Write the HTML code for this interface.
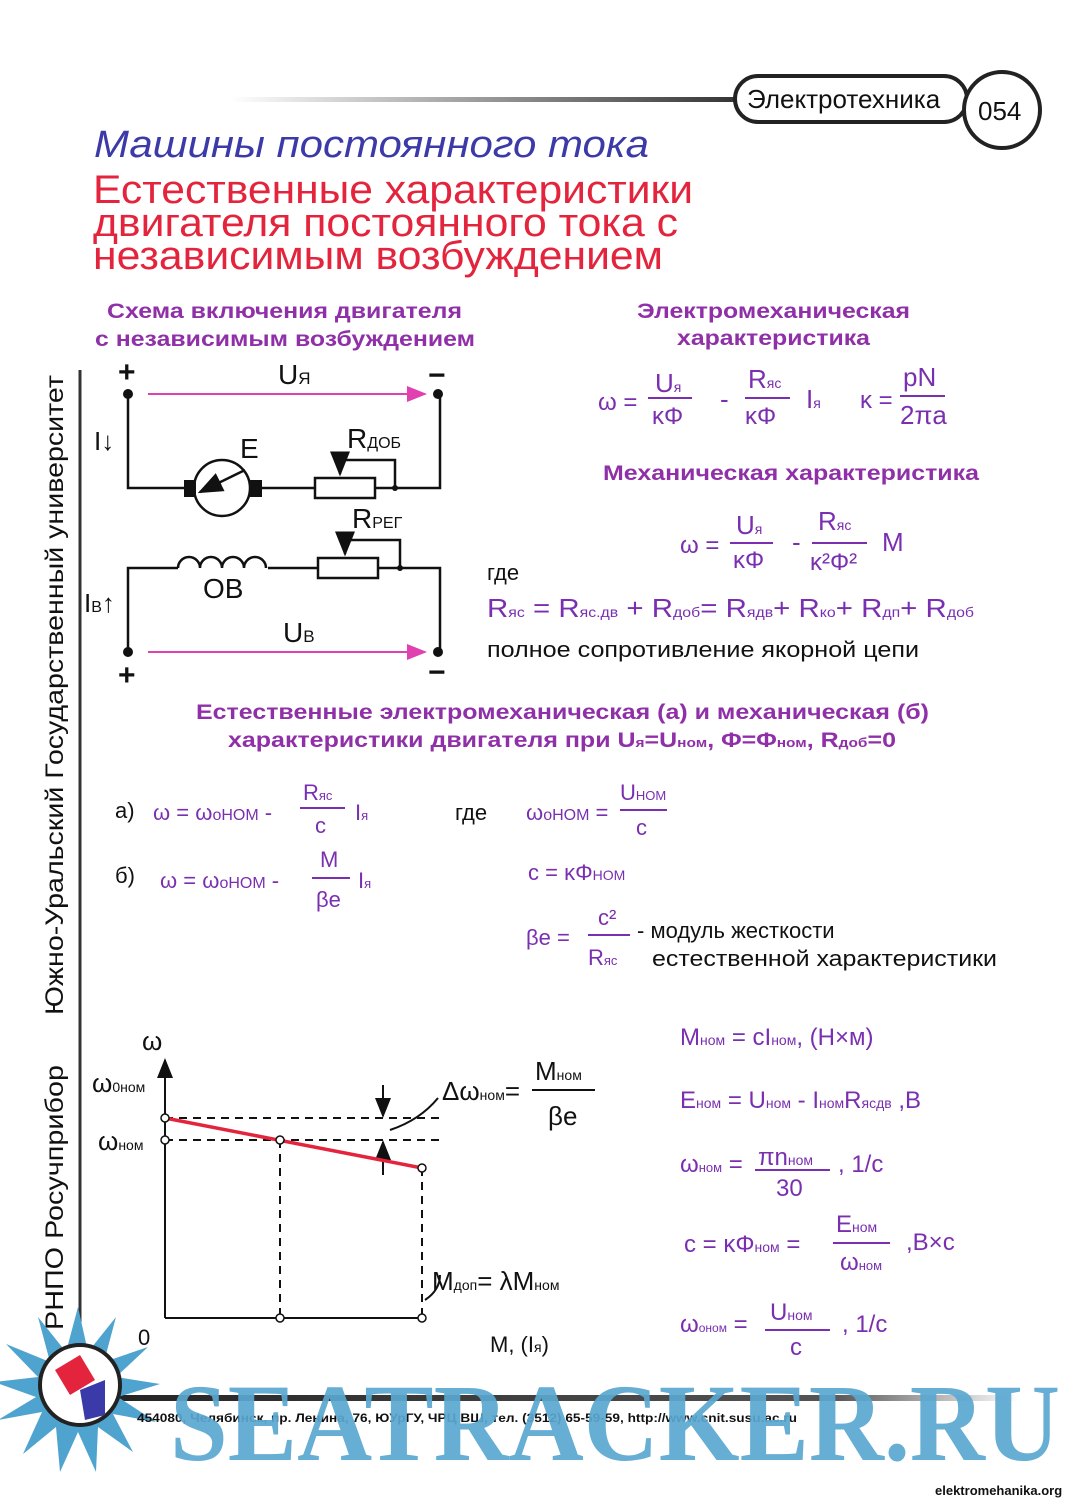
<!DOCTYPE html>
<html><head><meta charset="utf-8"><style>
html,body{margin:0;padding:0;background:#fff}
svg{display:block}
text{font-family:"Liberation Sans","DejaVu Sans",sans-serif}
.p{fill:#7a2fb0}
.h{fill:#9030a8;font-weight:bold;font-size:21px}
.k{fill:#111}
</style></head><body>
<svg width="1081" height="1500" viewBox="0 0 1081 1500" xmlns="http://www.w3.org/2000/svg">
<defs>
<linearGradient id="g1" x1="0" x2="1"><stop offset="0" stop-color="#fff"/><stop offset="1" stop-color="#333"/></linearGradient>
<linearGradient id="g2" x1="0" x2="1"><stop offset="0" stop-color="#222"/><stop offset="0.8" stop-color="#555"/><stop offset="1" stop-color="#fff"/></linearGradient>
<marker id="am" markerWidth="10" markerHeight="8" refX="9" refY="4" orient="auto"><path d="M0,0 L10,4 L0,8 z" fill="#e040b0"/></marker>
<marker id="ak" markerWidth="10" markerHeight="8" refX="9" refY="4" orient="auto"><path d="M0,0 L10,4 L0,8 z" fill="#111"/></marker>
</defs>
<rect x="230" y="97" width="510" height="5" fill="url(#g1)"/>
<rect x="735" y="76" width="232" height="46" rx="23" fill="#fff" stroke="#222" stroke-width="4"/>
<text x="747" y="108" font-size="26" class="k">Электротехника</text>
<circle cx="1002" cy="110" r="38" fill="#fff" stroke="#222" stroke-width="4"/>
<text x="978" y="120" font-size="26" class="k">054</text>
<text x="94" y="157" font-size="38" font-style="italic" fill="#3b3aa8" textLength="555" lengthAdjust="spacingAndGlyphs">Машины постоянного тока</text>
<text x="93" y="203" font-size="40" fill="#e3243c" textLength="600" lengthAdjust="spacingAndGlyphs">Естественные характеристики</text>
<text x="93" y="236" font-size="40" fill="#e3243c" textLength="585" lengthAdjust="spacingAndGlyphs">двигателя постоянного тока с</text>
<text x="93" y="269" font-size="40" fill="#e3243c" textLength="570" lengthAdjust="spacingAndGlyphs">независимым возбуждением</text>
<line x1="80" y1="370" x2="80" y2="1360" stroke="#333" stroke-width="3"/>
<text transform="translate(63,1015) rotate(-90)" font-size="25" class="k" textLength="640" lengthAdjust="spacingAndGlyphs">Южно-Уральский Государственный университет</text>
<text transform="translate(63,1330) rotate(-90)" font-size="25" class="k" textLength="265" lengthAdjust="spacingAndGlyphs">РНПО Росучприбор</text>
<text x="107" y="318" class="h" textLength="355" lengthAdjust="spacingAndGlyphs">Схема включения двигателя</text>
<text x="95" y="346" class="h" textLength="380" lengthAdjust="spacingAndGlyphs">с независимым возбуждением</text>
<g stroke="#111" stroke-width="2.5" fill="none">
<path d="M128,394 V488 H185 M260,488 H315 M375,488 H440 V394"/>
<path d="M395,488 V460 H340 V474" marker-end="url(#ak)"/>
<path d="M178,568 H128 V652 M378,568 H440 V652 M268,568 H318"/>
<path d="M178,568 a11,11 0 0 1 22,0 a11,11 0 0 1 22,0 a11,11 0 0 1 22,0 a11,11 0 0 1 22,0"/>
<path d="M400,568 V540 H345 V554" marker-end="url(#ak)"/>
<rect x="315" y="478" width="60" height="20"/>
<rect x="318" y="558" width="60" height="20"/>
<circle cx="222" cy="488" r="28"/>
<line x1="245" y1="470" x2="200" y2="492" marker-end="url(#ak)"/>
</g>
<rect x="184" y="480" width="12" height="17" fill="#111"/><rect x="250" y="480" width="12" height="17" fill="#111"/>
<g fill="#111"><circle cx="128" cy="394" r="5"/><circle cx="438" cy="394" r="5"/><circle cx="128" cy="652" r="5"/><circle cx="438" cy="652" r="5"/><circle cx="395" cy="488" r="3"/><circle cx="400" cy="568" r="3"/></g>
<line x1="148" y1="394" x2="425" y2="394" stroke="#e040b0" stroke-width="2" marker-end="url(#am)"/>
<line x1="148" y1="652" x2="425" y2="652" stroke="#e040b0" stroke-width="2" marker-end="url(#am)"/>
<text x="118" y="382" font-size="30" font-weight="bold" class="k">+</text><text x="428" y="385" font-size="30" font-weight="bold" class="k">−</text>
<text x="118" y="685" font-size="30" font-weight="bold" class="k">+</text><text x="428" y="682" font-size="30" font-weight="bold" class="k">−</text>
<text x="278" y="384" font-size="28" class="k">U<tspan font-size="17">Я</tspan></text>
<text x="283" y="642" font-size="28" class="k">U<tspan font-size="17">В</tspan></text>
<text x="94" y="450" font-size="26" class="k">I↓</text>
<text x="84" y="612" font-size="26" class="k">I<tspan font-size="16">В</tspan>↑</text>
<text x="240" y="458" font-size="28" class="k">E</text>
<text x="347" y="448" font-size="28" class="k">R<tspan font-size="16">ДОБ</tspan></text>
<text x="352" y="528" font-size="28" class="k">R<tspan font-size="16">РЕГ</tspan></text>
<text x="203" y="598" font-size="28" class="k">OB</text>
<text x="637" y="318" class="h" textLength="273" lengthAdjust="spacingAndGlyphs">Электромеханическая</text>
<text x="677" y="345" class="h" textLength="193" lengthAdjust="spacingAndGlyphs">характеристика</text>
<g class="p" font-size="26">
<text x="598" y="410" font-size="24">ω =</text>
<text x="655" y="392">U<tspan font-size="14">я</tspan></text><line x1="648" y1="398" x2="692" y2="398" stroke="#7a2fb0" stroke-width="2"/><text x="652" y="424" font-size="24">κΦ</text>
<text x="720" y="408">-</text>
<text x="748" y="388">R<tspan font-size="14">яс</tspan></text><line x1="745" y1="398" x2="790" y2="398" stroke="#7a2fb0" stroke-width="2"/><text x="745" y="424" font-size="24">κΦ</text>
<text x="806" y="408">I<tspan font-size="14">я</tspan></text>
<text x="860" y="408" font-size="24">κ =</text>
<text x="903" y="386">pN</text><line x1="900" y1="396" x2="945" y2="396" stroke="#7a2fb0" stroke-width="2"/><text x="900" y="424">2πa</text>
</g>
<text x="603" y="480" class="h" textLength="376" lengthAdjust="spacingAndGlyphs">Механическая характеристика</text>
<g class="p" font-size="26">
<text x="680" y="553" font-size="24">ω =</text>
<text x="736" y="534">U<tspan font-size="14">я</tspan></text><line x1="730" y1="543" x2="773" y2="543" stroke="#7a2fb0" stroke-width="2"/><text x="733" y="568" font-size="24">κΦ</text>
<text x="792" y="551">-</text>
<text x="818" y="530">R<tspan font-size="14">яс</tspan></text><line x1="812" y1="543" x2="867" y2="543" stroke="#7a2fb0" stroke-width="2"/><text x="810" y="570" font-size="24">κ²Φ²</text>
<text x="882" y="551">M</text>
<text x="487" y="617" textLength="487" lengthAdjust="spacingAndGlyphs">R<tspan font-size="14">яс</tspan> = R<tspan font-size="14">яс.дв</tspan> + R<tspan font-size="14">доб</tspan>= R<tspan font-size="14">ядв</tspan>+ R<tspan font-size="14">ко</tspan>+ R<tspan font-size="14">дп</tspan>+ R<tspan font-size="14">доб</tspan></text>
</g>
<text x="487" y="580" font-size="22" class="k">где</text>
<text x="487" y="657" font-size="22" class="k" textLength="432" lengthAdjust="spacingAndGlyphs">полное сопротивление якорной цепи</text>
<text x="196" y="719" class="h" textLength="733" lengthAdjust="spacingAndGlyphs">Естественные электромеханическая (а) и механическая (б)</text>
<text x="228" y="747" class="h" textLength="668" lengthAdjust="spacingAndGlyphs">характеристики двигателя при U<tspan font-size="13">я</tspan>=U<tspan font-size="13">ном</tspan>, Φ=Φ<tspan font-size="13">ном</tspan>, R<tspan font-size="13">доб</tspan>=0</text>
<text x="115" y="818" font-size="22" class="k">а)</text>
<text x="115" y="883" font-size="22" class="k">б)</text>
<g class="p" font-size="22">
<text x="153" y="820">ω = ω<tspan font-size="16">оНОМ</tspan> -</text>
<text x="303" y="800">R<tspan font-size="13">яс</tspan></text><line x1="300" y1="808" x2="345" y2="808" stroke="#7a2fb0" stroke-width="2"/><text x="315" y="833">c</text>
<text x="355" y="820">I<tspan font-size="13">я</tspan></text>
<text x="160" y="888">ω = ω<tspan font-size="16">оНОМ</tspan> -</text>
<text x="320" y="867">M</text><line x1="312" y1="878" x2="350" y2="878" stroke="#7a2fb0" stroke-width="2"/><text x="316" y="907">βe</text>
<text x="358" y="888">I<tspan font-size="13">я</tspan></text>
<text x="526" y="820">ω<tspan font-size="16">оНОМ</tspan> =</text>
<text x="620" y="800">U<tspan font-size="13">НОМ</tspan></text><line x1="620" y1="810" x2="667" y2="810" stroke="#7a2fb0" stroke-width="2"/><text x="636" y="835">c</text>
<text x="528" y="880">c = κΦ<tspan font-size="14">НОМ</tspan></text>
<text x="526" y="945">βe =</text>
<text x="598" y="925">c²</text><line x1="588" y1="935" x2="630" y2="935" stroke="#7a2fb0" stroke-width="2"/><text x="588" y="965">R<tspan font-size="13">яс</tspan></text>
</g>
<text x="455" y="820" font-size="22" class="k">где</text>
<text x="637" y="938" font-size="22" class="k">- модуль жесткости</text>
<text x="652" y="966" font-size="22" class="k" textLength="345" lengthAdjust="spacingAndGlyphs">естественной характеристики</text>
<g stroke="#111" stroke-width="2" fill="none">
<line x1="165" y1="1318" x2="165" y2="1060" marker-end="url(#ak)"/>
<line x1="165" y1="1318" x2="422" y2="1318"/>
<g stroke-dasharray="8,6"><line x1="165" y1="1118" x2="440" y2="1118"/><line x1="165" y1="1140" x2="440" y2="1140"/><line x1="280" y1="1140" x2="280" y2="1318"/><line x1="422" y1="1168" x2="422" y2="1318"/></g>
<line x1="383" y1="1085" x2="383" y2="1116" marker-end="url(#ak)"/>
<line x1="383" y1="1175" x2="383" y2="1142" marker-end="url(#ak)"/>
<path d="M390,1130 Q420,1120 438,1098"/>
<path d="M425,1300 Q440,1290 440,1275"/>
</g>
<line x1="165" y1="1118" x2="422" y2="1168" stroke="#e3243c" stroke-width="3.5"/>
<g fill="#fff" stroke="#111" stroke-width="1.5"><circle cx="165" cy="1118" r="4"/><circle cx="165" cy="1140" r="4"/><circle cx="280" cy="1140" r="4"/><circle cx="422" cy="1168" r="4"/><circle cx="280" cy="1318" r="4"/><circle cx="422" cy="1318" r="4"/></g>
<g class="k" font-size="26">
<text x="142" y="1050">ω</text>
<text x="92" y="1092">ω<tspan font-size="14">0ном</tspan></text>
<text x="98" y="1150">ω<tspan font-size="14">ном</tspan></text>
<text x="138" y="1345" font-size="22">0</text>
<text x="490" y="1352" font-size="22">M, (I<tspan font-size="14">я</tspan>)</text>
<text x="442" y="1100">Δω<tspan font-size="14">ном</tspan>=</text>
<text x="535" y="1080">M<tspan font-size="14">ном</tspan></text><line x1="532" y1="1090" x2="595" y2="1090" stroke="#111" stroke-width="2"/><text x="548" y="1125">βe</text>
<text x="432" y="1290">M<tspan font-size="14">доп</tspan>= λM<tspan font-size="14">ном</tspan></text>
</g>
<g class="p" font-size="24">
<text x="680" y="1045">M<tspan font-size="14">ном</tspan> = cI<tspan font-size="14">ном</tspan>, (H×м)</text>
<text x="680" y="1108">E<tspan font-size="14">ном</tspan> = U<tspan font-size="14">ном</tspan> - I<tspan font-size="14">ном</tspan>R<tspan font-size="14">ясдв</tspan> ,B</text>
<text x="680" y="1172">ω<tspan font-size="13">ном</tspan> =</text>
<text x="758" y="1165">πn<tspan font-size="14">ном</tspan></text><line x1="755" y1="1170" x2="830" y2="1170" stroke="#7a2fb0" stroke-width="2"/><text x="776" y="1196">30</text>
<text x="838" y="1172">, 1/c</text>
<text x="684" y="1252">c = κΦ<tspan font-size="14">ном</tspan> =</text>
<text x="836" y="1232">E<tspan font-size="14">ном</tspan></text><line x1="833" y1="1243" x2="890" y2="1243" stroke="#7a2fb0" stroke-width="2"/><text x="840" y="1270">ω<tspan font-size="13">ном</tspan></text>
<text x="906" y="1250">,B×c</text>
<text x="680" y="1332">ω<tspan font-size="12">оном</tspan> =</text>
<text x="770" y="1320">U<tspan font-size="14">ном</tspan></text><line x1="765" y1="1330" x2="830" y2="1330" stroke="#7a2fb0" stroke-width="2"/><text x="790" y="1355">c</text>
<text x="842" y="1332">, 1/c</text>
</g>
<rect x="80" y="1395" width="940" height="6" fill="url(#g2)"/>
<g transform="translate(78,1392)" fill="#4fa3cf">
<polygon points="0,-85 10,-40 38,-75 26,-30 70,-45 38,-15 82,-8 40,5 78,30 35,22 55,60 20,35 18,80 0,40 -18,80 -22,35 -55,62 -36,20 -80,28 -42,5 -84,-10 -40,-15 -72,-48 -28,-30 -40,-75 -12,-40"/>
</g>
<circle cx="80" cy="1385" r="40" fill="#fff" stroke="#222" stroke-width="4"/>
<path d="M55,1370 L80,1355 L95,1380 L70,1395z" fill="#e3243c"/>
<path d="M80,1390 L105,1380 L105,1415 L85,1420z" fill="#3a3aa8"/>
<text x="137" y="1422" font-size="12" font-weight="bold" class="k" textLength="660" lengthAdjust="spacingAndGlyphs">454080, Челябинск, пр. Ленина, 76, ЮУрГУ, ЧРЦ ВШ, тел. (3512) 65-59-59, http://www.cnit.susu.ac.ru</text>
<text x="170" y="1460" style="font-family:'Liberation Serif','DejaVu Serif',serif;font-weight:bold" font-size="110" fill="#5aa8d0" textLength="890" lengthAdjust="spacingAndGlyphs" opacity="0.92">SEATRACKER.RU</text>
<rect x="930" y="1482" width="150" height="18" fill="#fff"/>
<text x="935" y="1495" font-size="13" font-weight="bold" class="k">elektromehanika.org</text>
</svg>
</body></html>
